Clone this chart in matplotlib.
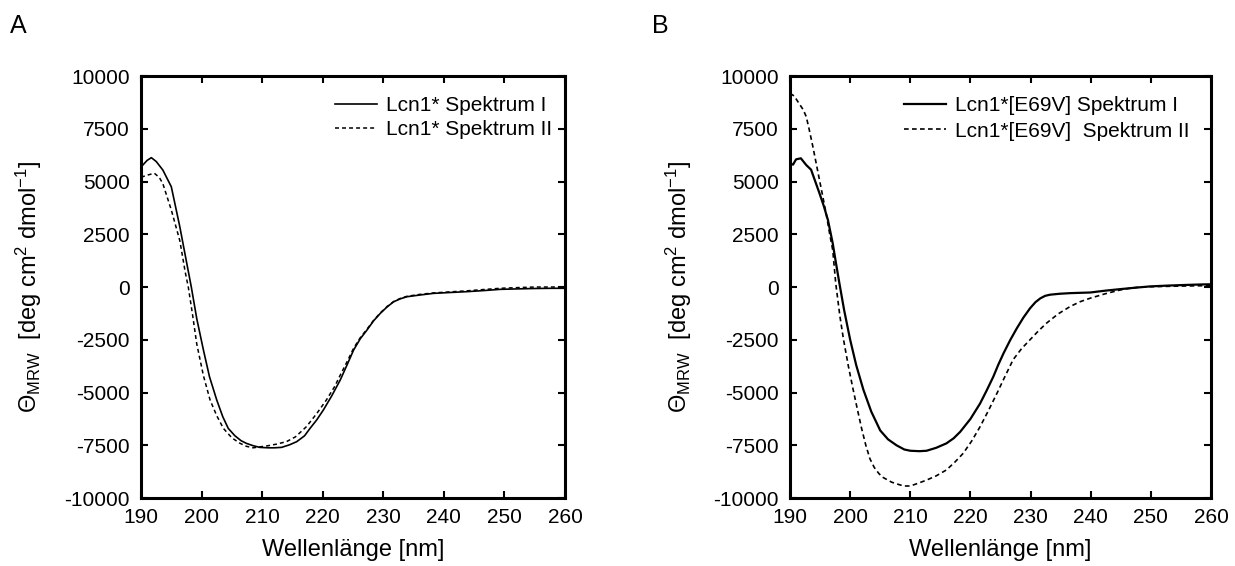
#!/usr/bin/env python3
import numpy as np
import matplotlib
matplotlib.use("Agg")
import matplotlib.pyplot as plt

plt.rcParams['font.family'] = ['Liberation Sans', 'DejaVu Sans']
plt.rcParams['mathtext.fontset'] = 'custom'
plt.rcParams['mathtext.rm'] = 'Liberation Sans'
plt.rcParams['mathtext.it'] = 'Liberation Sans:italic'
plt.rcParams['axes.unicode_minus'] = False

# Panel A: Lcn1*
wl_a1 = [190, 191, 191.7, 192.5, 193.6, 195, 196.4, 197.3, 198.3, 199.2, 200.3, 201.3,
         202.5, 203.5, 204.4, 205.5, 206.5, 207.4, 208.5, 209.6, 211, 212, 213.2, 214.5,
         215.7, 217, 217.9, 219, 220.1, 221.5, 222.9, 224, 225.1, 226.2, 227.3, 228.4,
         229.5, 230.6, 231.7, 232.8, 233.9, 236, 238.3, 241, 243.8, 246.5, 249.3, 252,
         255, 258, 260]
theta_a1 = [5690, 6000, 6130, 5950, 5545, 4750, 2860, 1500, 0, -1500, -2985, -4250,
            -5355, -6150, -6700, -7050, -7280, -7410, -7520, -7600, -7620, -7620, -7600, -7480,
            -7330, -7050, -6700, -6300, -5830, -5150, -4400, -3700, -2985, -2450, -2040, -1600,
            -1250, -950, -700, -560, -460, -380, -300, -260, -220, -170, -110, -90,
            -70, -60, -60]

wl_a2 = [190, 191, 192.2, 193, 193.6, 195, 196.4, 197.3, 197.8, 198.5, 199.2, 200.3,
         201.4, 202.5, 203.6, 205, 206.3, 207.4, 208.5, 209.5, 210.7, 212.3, 214, 215.5,
         217.3, 219, 220.6, 222, 222.9, 224, 225.1, 226.2, 227.3, 228.4, 229.5, 230.6,
         231.7, 232.8, 233.9, 236, 238.3, 241, 243.8, 246.5, 249.3, 252, 255, 258, 260]
theta_a2 = [5200, 5300, 5390, 5200, 4900, 3650, 2200, 700, 0, -1300, -2700, -4200,
            -5355, -6100, -6700, -7150, -7400, -7550, -7620, -7580, -7535, -7450, -7330, -7100,
            -6620, -6000, -5355, -4700, -4170, -3550, -2900, -2400, -2000, -1580, -1230, -930,
            -690, -540, -440, -350, -280, -230, -180, -120, -60, -30, 0, 0, 0]

# Panel B: Lcn1*[E69V]
wl_b1 = [190, 190.5, 191, 191.8, 192.7, 193.5, 194.2, 194.9, 195.6, 196.3, 197.1, 197.6,
         198.2, 199, 200, 201, 202.2, 203.5, 205, 206.3, 207.7, 209, 210, 211.5, 212.7,
         214.3, 216, 217.2, 218.3, 220, 221.6, 222.7, 223.8, 224.6, 225.5, 226.6, 227.7,
         228.8, 229.9, 230.8, 231.6, 232.4, 233.2, 234.8, 236.6, 239.9, 242.5, 244.9,
         247.5, 249.9, 253, 256, 258.2, 260]
theta_b1 = [5850, 5800, 6050, 6100, 5780, 5560, 5000, 4440, 3850, 3180, 2070, 1200,
            190, -1100, -2500, -3700, -4870, -5900, -6800, -7220, -7500, -7700, -7760, -7780, -7760,
            -7620, -7410, -7170, -6860, -6250, -5520, -4900, -4250, -3700, -3140, -2520, -1960,
            -1450, -1010, -720, -540, -420, -365, -320, -290, -260, -170, -100,
            -30, 30, 70, 100, 120, 130]

wl_b2 = [190, 190.7, 191.5, 192.2, 192.7, 193.2, 193.8, 194.9, 196, 196.6, 197.1, 197.6,
         198.3, 198.9, 199.7, 200.5, 201.2, 201.9, 202.6, 203.3, 204, 204.8, 205.5, 206.9,
         208.3, 209, 210, 211.3, 212.7, 214.3, 216, 217.4, 218.8, 220.2, 221.6, 223, 224.4,
         225.8, 227.1, 228.5, 229.9, 231.3, 232.7, 234.6, 236.6, 238.2, 239.9, 242.4, 244.9,
         246.5, 248.2, 251, 254, 258.2, 260]
theta_b2 = [9180, 9050, 8700, 8400, 8070, 7450, 6650, 5070, 3490, 2500, 1750, 175,
            -1400, -2500, -3750, -4870, -5800, -6700, -7500, -8150, -8550, -8850, -9030, -9250,
            -9380, -9430, -9430, -9300, -9150, -8950, -8670, -8300, -7880, -7300, -6620, -5850,
            -5040, -4200, -3440, -2920, -2500, -2080, -1700, -1270, -920, -700, -530, -320, -140,
            -60, 0, 20, 40, 60, 60]

x_ticks = [190, 200, 210, 220, 230, 240, 250, 260]
y_ticks = [-10000, -7500, -5000, -2500, 0, 2500, 5000, 7500, 10000]

ylabel = r'Θ$_{\mathrm{MRW}}$  [deg cm$^{2}$ dmol$^{-1}$]'

fig = plt.figure(figsize=(12.35, 5.66), dpi=100)
ax_a = fig.add_axes([0.1142, 0.1201, 0.3433, 0.7456])
ax_b = fig.add_axes([0.6397, 0.1201, 0.3409, 0.7456])

ax_a.plot(wl_a1, theta_a1, color='black', lw=1.2, label='Lcn1* Spektrum I')
ax_a.plot(wl_a2, theta_a2, color='black', lw=1.1, linestyle=(0, (2.6, 2.0)),
          label='Lcn1* Spektrum II')

ax_b.plot(wl_b1, theta_b1, color='black', lw=1.6, label='Lcn1*[E69V] Spektrum I')
ax_b.plot(wl_b2, theta_b2, color='black', lw=1.2, linestyle=(0, (2.8, 2.0)),
          label='Lcn1*[E69V]  Spektrum II')

for ax in (ax_a, ax_b):
    ax.set_xlim(190, 260)
    ax.set_ylim(-10000, 10000)
    ax.set_xticks(x_ticks)
    ax.set_yticks(y_ticks)
    ax.tick_params(direction='in', top=True, right=True, length=5, width=1.5,
                   labelsize=15)
    ax.tick_params(axis='x', pad=7)
    ax.tick_params(axis='y', pad=8)
    for sp in ax.spines.values():
        sp.set_linewidth(2.2)
    ax.set_xlabel('Wellenlänge [nm]', fontsize=17, labelpad=9)
    ax.set_ylabel(ylabel, fontsize=17)
    ax.yaxis.set_label_coords(-0.228, 0.5)

ax_a.legend(loc='upper right', bbox_to_anchor=(0.97, 0.952), frameon=False,
            fontsize=15, handlelength=2.0, handletextpad=0.45, labelspacing=0.25,
            borderpad=0, borderaxespad=0)
ax_b.legend(loc='upper right', bbox_to_anchor=(0.95, 0.952), frameon=False,
            fontsize=15, handlelength=2.0, handletextpad=0.45, labelspacing=0.3,
            borderpad=0, borderaxespad=0)

fig.text(10 / 1235, 1 - 26 / 566, 'A', fontsize=18, va='center', ha='left')
fig.text(652 / 1235, 1 - 26 / 566, 'B', fontsize=18, va='center', ha='left')

fig.savefig('out.png', dpi=100)
